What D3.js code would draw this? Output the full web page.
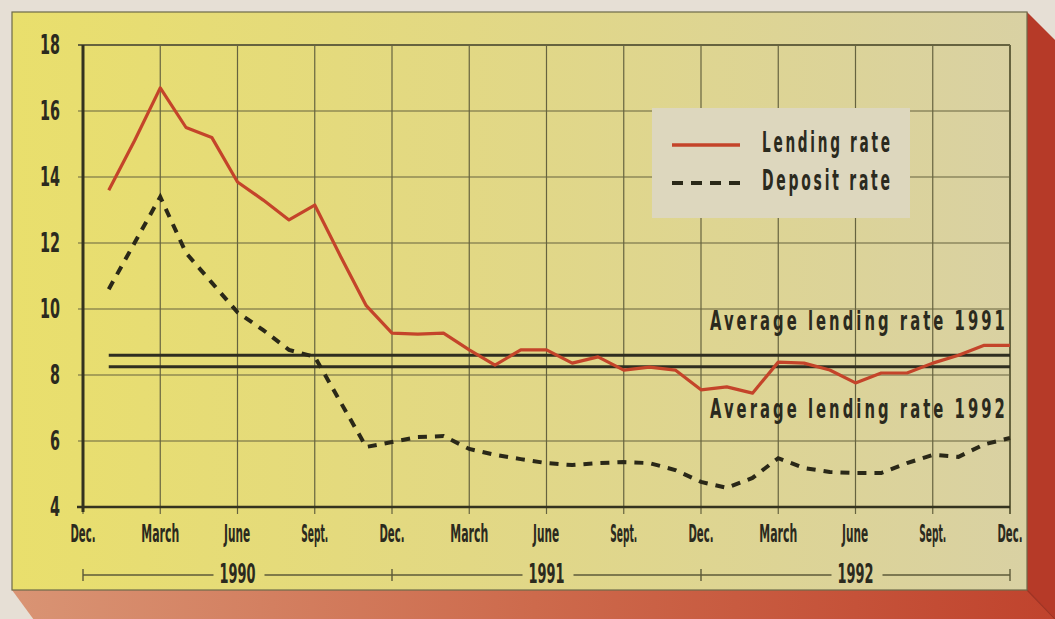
<!DOCTYPE html>
<html>
<head>
<meta charset="utf-8">
<script src="https://cdn.jsdelivr.net/npm/d3@7"></script>
<style>
  html, body { margin: 0; padding: 0; background: #e6dfd5; }
  svg { display: block; }
  text { font-family: "Liberation Sans Narrow", "DejaVu Sans Condensed", "Liberation Sans", sans-serif; font-weight: bold; fill: #2b2a1e; }
</style>
</head>
<body>
<svg id="chart" width="1055" height="619"></svg>
<script>
// Monthly rates, January 1990 to December 1992 (per cent)
const lendingRate = [13.6, 15.1, 16.7, 15.5, 15.2, 13.85, 13.3, 12.7, 13.15, 11.6, 10.1, 9.27,
                     9.24, 9.27, 8.76, 8.3, 8.76, 8.76, 8.36, 8.55, 8.15, 8.24, 8.15, 7.55,
                     7.64, 7.45, 8.39, 8.36, 8.15, 7.76, 8.06, 8.06, 8.36, 8.6, 8.9, 8.9];
const depositRate = [10.6, 12.0, 13.4, 11.7, 10.8, 9.9, 9.36, 8.76, 8.55, 7.18, 5.82, 5.97,
                     6.12, 6.15, 5.76, 5.58, 5.45, 5.33, 5.27, 5.33, 5.36, 5.33, 5.12, 4.76,
                     4.58, 4.88, 5.48, 5.18, 5.06, 5.03, 5.03, 5.33, 5.58, 5.52, 5.9, 6.09];

// Month axis: index 0 = December 1989, one step per month
const quarterTicks = [0, 3, 6, 9, 12, 15, 18, 21, 24, 27, 30, 33, 36];
const quarterLabels = ["Dec.", "March", "June", "Sept.", "Dec.", "March", "June", "Sept.",
                       "Dec.", "March", "June", "Sept.", "Dec."];
const yearLabels = ["1990", "1991", "1992"];
const yearBounds = [0, 12, 24, 36];

const yTicks = [4, 6, 8, 10, 12, 14, 16, 18];

// Yearly averages of the lending rate
const averageLabels = ["Average lending rate 1991", "Average lending rate 1992"];
const averageRates = [8.6, 8.25];

const legendLabels = ["Lending rate", "Deposit rate"];

const svg = d3.select("#chart");
const defs = svg.append("defs");

// Squeeze a text horizontally so it spans `width` pixels; anchor is "start", "middle" or "end".
function fitText(parent, str, px, py, width, size, anchor, spacing) {
  const g = parent.append("g");
  const t = g.append("text").attr("font-size", size).attr("x", 0).attr("y", 0)
    .style("letter-spacing", (spacing || 0) + "px").text(str);
  const natural = t.node().getBBox().width - (spacing || 0);
  const s = width / natural;
  let left = px;
  if (anchor === "middle") left = px - width / 2;
  if (anchor === "end") left = px - width;
  g.attr("transform", `translate(${left},${py}) scale(${s},1)`);
  return g;
}

// --- the raised board the chart is printed on ---
const faceGrad = defs.append("linearGradient").attr("id", "face").attr("x1", 0).attr("x2", 1).attr("y1", 0).attr("y2", 0);
faceGrad.append("stop").attr("offset", 0).attr("stop-color", "#e9df6c");
faceGrad.append("stop").attr("offset", 0.45).attr("stop-color", "#e2d884");
faceGrad.append("stop").attr("offset", 1).attr("stop-color", "#d9d1a3");

const baseGrad = defs.append("linearGradient").attr("id", "base").attr("x1", 0).attr("x2", 1).attr("y1", 0).attr("y2", 0);
baseGrad.append("stop").attr("offset", 0).attr("stop-color", "#d99474");
baseGrad.append("stop").attr("offset", 0.5).attr("stop-color", "#cd6a4c");
baseGrad.append("stop").attr("offset", 1).attr("stop-color", "#c0432d");

const faceL = 12, faceT = 12, faceR = 1027, faceB = 590, depth = 28;

svg.append("polygon")
  .attr("points", [[faceR, faceT], [faceR + depth, faceT + depth], [faceR + depth, 619], [faceR, faceB]].join(" "))
  .attr("fill", "#b63a28");
svg.append("polygon")
  .attr("points", [[faceL, faceB], [faceR, faceB], [faceR + depth + 2, 620], [faceL + depth - 6, 620]].join(" "))
  .attr("fill", "url(#base)");
svg.append("line")
  .attr("x1", faceR).attr("y1", faceB).attr("x2", faceR + depth).attr("y2", 619)
  .attr("stroke", "#9e3324").attr("stroke-width", 1.2);
svg.append("rect")
  .attr("x", faceL).attr("y", faceT).attr("width", faceR - faceL).attr("height", faceB - faceT)
  .attr("fill", "url(#face)").attr("stroke", "#6d6a4a").attr("stroke-width", 1.2);

// --- scales ---
const x = d3.scaleLinear().domain([0, 36]).range([83, 1010]);
const y = d3.scaleLinear().domain([4, 18]).range([507, 45]);

const grid = svg.append("g");
// horizontal grid
grid.selectAll("line.h").data(yTicks).join("line")
  .attr("x1", x(0) - 5).attr("x2", x(36))
  .attr("y1", d => y(d)).attr("y2", d => y(d))
  .attr("stroke", "#66633f").attr("stroke-width", d => d === 18 ? 2 : 1.2);
// vertical grid, running a little below the baseline as tick marks
grid.selectAll("line.v").data(quarterTicks).join("line")
  .attr("x1", d => x(d)).attr("x2", d => x(d))
  .attr("y1", y(18)).attr("y2", y(4) + 7)
  .attr("stroke", "#66633f").attr("stroke-width", d => d === 36 ? 2 : 1.2);

// axes proper
svg.append("line").attr("x1", x(0)).attr("x2", x(0)).attr("y1", y(18)).attr("y2", y(4) + 5)
  .attr("stroke", "#34331f").attr("stroke-width", 3);
svg.append("line").attr("x1", x(0) - 6).attr("x2", x(36)).attr("y1", y(4)).attr("y2", y(4))
  .attr("stroke", "#34331f").attr("stroke-width", 2.6);

// y tick labels
yTicks.forEach(d => fitText(svg, String(d), 60, y(d) + 9, String(d).length * 10, 26, "end"));

// month labels
const monthWidth = { "Dec.": 25, "March": 38, "June": 27, "Sept.": 27 };
quarterTicks.forEach((d, i) => fitText(svg, quarterLabels[i], x(d), 542, monthWidth[quarterLabels[i]], 25, "middle"));

// year bar beneath the months
const yearY = 575;
const yearG = svg.append("g");
yearLabels.forEach((label, i) => {
  const a = x(yearBounds[i]), b = x(yearBounds[i + 1]), mid = (a + b) / 2;
  yearG.append("line").attr("x1", a).attr("x2", mid - 24).attr("y1", yearY).attr("y2", yearY)
    .attr("stroke", "#5c5a38").attr("stroke-width", 1.4);
  yearG.append("line").attr("x1", mid + 27).attr("x2", b).attr("y1", yearY).attr("y2", yearY)
    .attr("stroke", "#5c5a38").attr("stroke-width", 1.4);
  fitText(yearG, label, mid, yearY + 8, 36, 27, "middle");
});
yearG.selectAll("line.tick").data(yearBounds).join("line")
  .attr("x1", d => x(d)).attr("x2", d => x(d)).attr("y1", yearY - 6).attr("y2", yearY + 6)
  .attr("stroke", "#5c5a38").attr("stroke-width", 1.4);

// average lending rate reference lines
svg.selectAll("line.avg").data(averageRates).join("line")
  .attr("x1", x(1)).attr("x2", x(36))
  .attr("y1", d => y(d)).attr("y2", d => y(d))
  .attr("stroke", "#2f2e20").attr("stroke-width", 3);
const avgTextY = [y(averageRates[0]) - 25, y(averageRates[1]) + 51];
averageLabels.forEach((label, i) => fitText(svg, label, 710, avgTextY[i], 295, 27, "start", 5));

// rate lines
const line = d3.line().x((d, i) => x(i + 1)).y(d => y(d));
svg.append("path").datum(depositRate)
  .attr("d", line)
  .attr("fill", "none").attr("stroke", "#2a2818").attr("stroke-width", 4)
  .attr("stroke-dasharray", "9,8");
svg.append("path").datum(lendingRate)
  .attr("d", line)
  .attr("fill", "none").attr("stroke", "#c4442a").attr("stroke-width", 3.2)
  .attr("stroke-linejoin", "round");

// legend
const lg = svg.append("g");
lg.append("rect").attr("x", 652).attr("y", 108).attr("width", 258).attr("height", 110)
  .attr("fill", "#ddd7be");
lg.append("line").attr("x1", 672).attr("x2", 740).attr("y1", 145).attr("y2", 145)
  .attr("stroke", "#c4442a").attr("stroke-width", 3.5);
lg.append("line").attr("x1", 672).attr("x2", 740).attr("y1", 183).attr("y2", 183)
  .attr("stroke", "#2a2818").attr("stroke-width", 4).attr("stroke-dasharray", "11,8");
legendLabels.forEach((label, i) => fitText(lg, label, 762, [152, 190][i], 128, 28, "start", 5));
</script>
</body>
</html>
